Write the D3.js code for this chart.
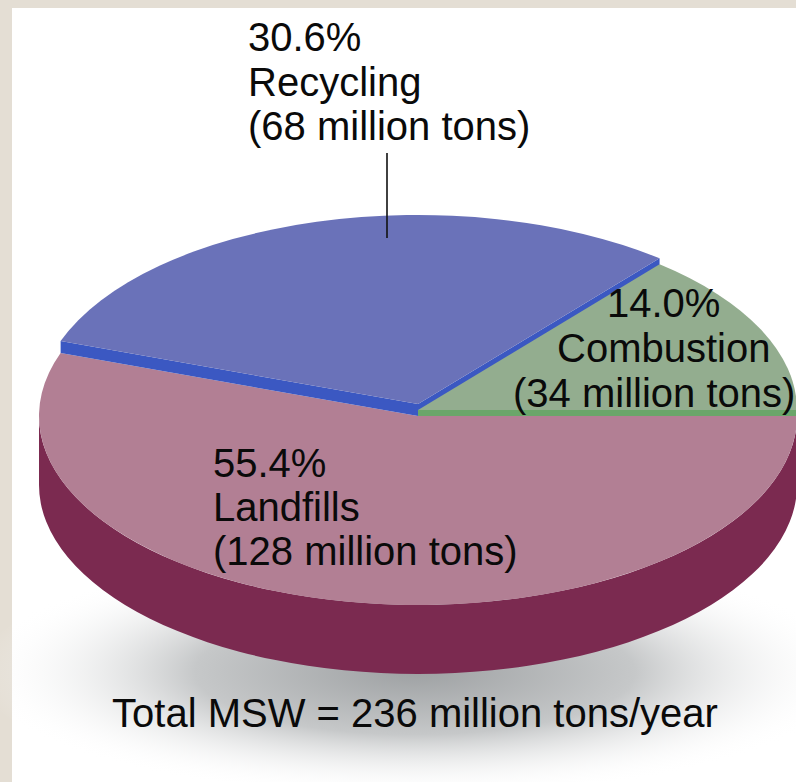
<!DOCTYPE html>
<html>
<head>
<meta charset="utf-8">
<script src="https://cdn.jsdelivr.net/npm/d3@7"></script>
<style>
  html, body { margin: 0; padding: 0; background: #e4ded4; }
  svg { display: block; }
</style>
</head>
<body>
<svg id="chart" width="796" height="782"></svg>
<script>
// ---- data ----
const categories = ["Landfills", "Recycling", "Combustion"];
const percents   = [55.4, 30.6, 14.0];
const tons       = [128, 68, 34];
const totalTons  = 236;
const raise      = [0, 12, 6];          // how far each slice top sits above the base
const topColors  = ["#b27f94", "#6a72b9", "#93ad8f"];
const sideColors = ["#7b2a50", "#3b58c2", "#6aa66a"];

// ---- layout ----
const W = 796, H = 782;
const cx = 418, cy = 416, rx = 379, ry = 189, depth = 69;

const svg = d3.select("#chart");
const defs = svg.append("defs");

// background panel
svg.append("rect").attr("width", W).attr("height", H).attr("fill", "#e4ded4");
svg.append("rect").attr("x", 12).attr("y", 8).attr("width", W - 12).attr("height", H - 8).attr("fill", "#ffffff");

// soft shadow below the pie
const grad = defs.append("radialGradient").attr("id", "shadow")
  .attr("cx", 0.5).attr("cy", 0.5).attr("r", 0.5);
grad.append("stop").attr("offset", "0%").attr("stop-color", "#9ea1a3");
grad.append("stop").attr("offset", "50%").attr("stop-color", "#c6c8c9");
grad.append("stop").attr("offset", "100%").attr("stop-color", "#ffffff").attr("stop-opacity", 0);
svg.append("ellipse").attr("cx", 415).attr("cy", 672).attr("rx", 440).attr("ry", 125)
  .attr("fill", "url(#shadow)");

// ---- pie angles ----
const pie = d3.pie().sort(null).value(d => d.p)
  .startAngle(Math.PI / 2).endAngle(Math.PI / 2 + 2 * Math.PI);
const slices = pie(categories.map((c, i) => ({ c, p: percents[i], i })));

const px = a => cx + rx * Math.sin(a);
const py = (a, dy) => cy - ry * Math.cos(a) + dy;

const arc = d3.arc().innerRadius(0).outerRadius(100);

function topFace(s, dy) {
  return svg.append("path")
    .attr("d", arc(s))
    .attr("transform", `translate(${cx},${cy + dy}) scale(${rx / 100},${ry / 100})`)
    .attr("fill", topColors[s.data.i]);
}
// radial wall: from centre to rim at angle a, between heights dyTop and dyBottom
function radialWall(a, dyTop, dyBot, color) {
  const p = `M${cx},${cy + dyTop} L${px(a)},${py(a, dyTop)} L${px(a)},${py(a, dyBot)} L${cx},${cy + dyBot} Z`;
  svg.append("path").attr("d", p).attr("fill", color);
}

// base slice (landfills) outer wall: the front half of the rim
{
  const a0 = Math.PI / 2, a1 = 3 * Math.PI / 2;
  const p = `M${px(a0)},${py(a0, 0)} A${rx},${ry} 0 0 1 ${px(a1)},${py(a1, 0)}` +
            ` L${px(a1)},${py(a1, depth)} A${rx},${ry} 0 0 0 ${px(a0)},${py(a0, depth)} Z`;
  svg.append("path").attr("d", p).attr("fill", sideColors[0]);
}
topFace(slices[0], 0);

// raised slices: walls first, lower slab top, then higher slab top
const rec = slices[1], com = slices[2];
radialWall(rec.startAngle, -raise[1], 0, sideColors[1]);
radialWall(rec.endAngle, -raise[1], 0, sideColors[1]);
radialWall(com.endAngle, -raise[2], 0, sideColors[2]);
topFace(com, -raise[2]);
topFace(rec, -raise[1]);

// ---- labels ----
const font = "'Liberation Sans', Arial, Helvetica, sans-serif";
function label(lines, x, y0, step, anchor) {
  const t = svg.append("text")
    .attr("font-family", font).attr("font-size", 40).attr("fill", "#0a0a0a")
    .attr("text-anchor", anchor || "start");
  lines.forEach((l, k) => {
    t.append("tspan").attr("x", Array.isArray(x) ? x[k] : x).attr("y", y0 + k * step).text(l);
  });
}
const fmt = d3.format(".1f");
const lab = i => [fmt(percents[i]) + "%", categories[i], `(${tons[i]} million tons)`];

label(lab(1), 248, 51, 44.5);
svg.append("line").attr("x1", 387).attr("x2", 387).attr("y1", 153).attr("y2", 238)
  .attr("stroke", "#111").attr("stroke-width", 1.6);
label(lab(2), [607, 557, 513], 317, 45);
label(lab(0), 213, 477, 44);

svg.append("text").attr("x", 415).attr("y", 727)
  .attr("font-family", font).attr("font-size", 40).attr("fill", "#0a0a0a")
  .attr("text-anchor", "middle")
  .text(`Total MSW = ${totalTons} million tons/year`);
</script>
</body>
</html>
